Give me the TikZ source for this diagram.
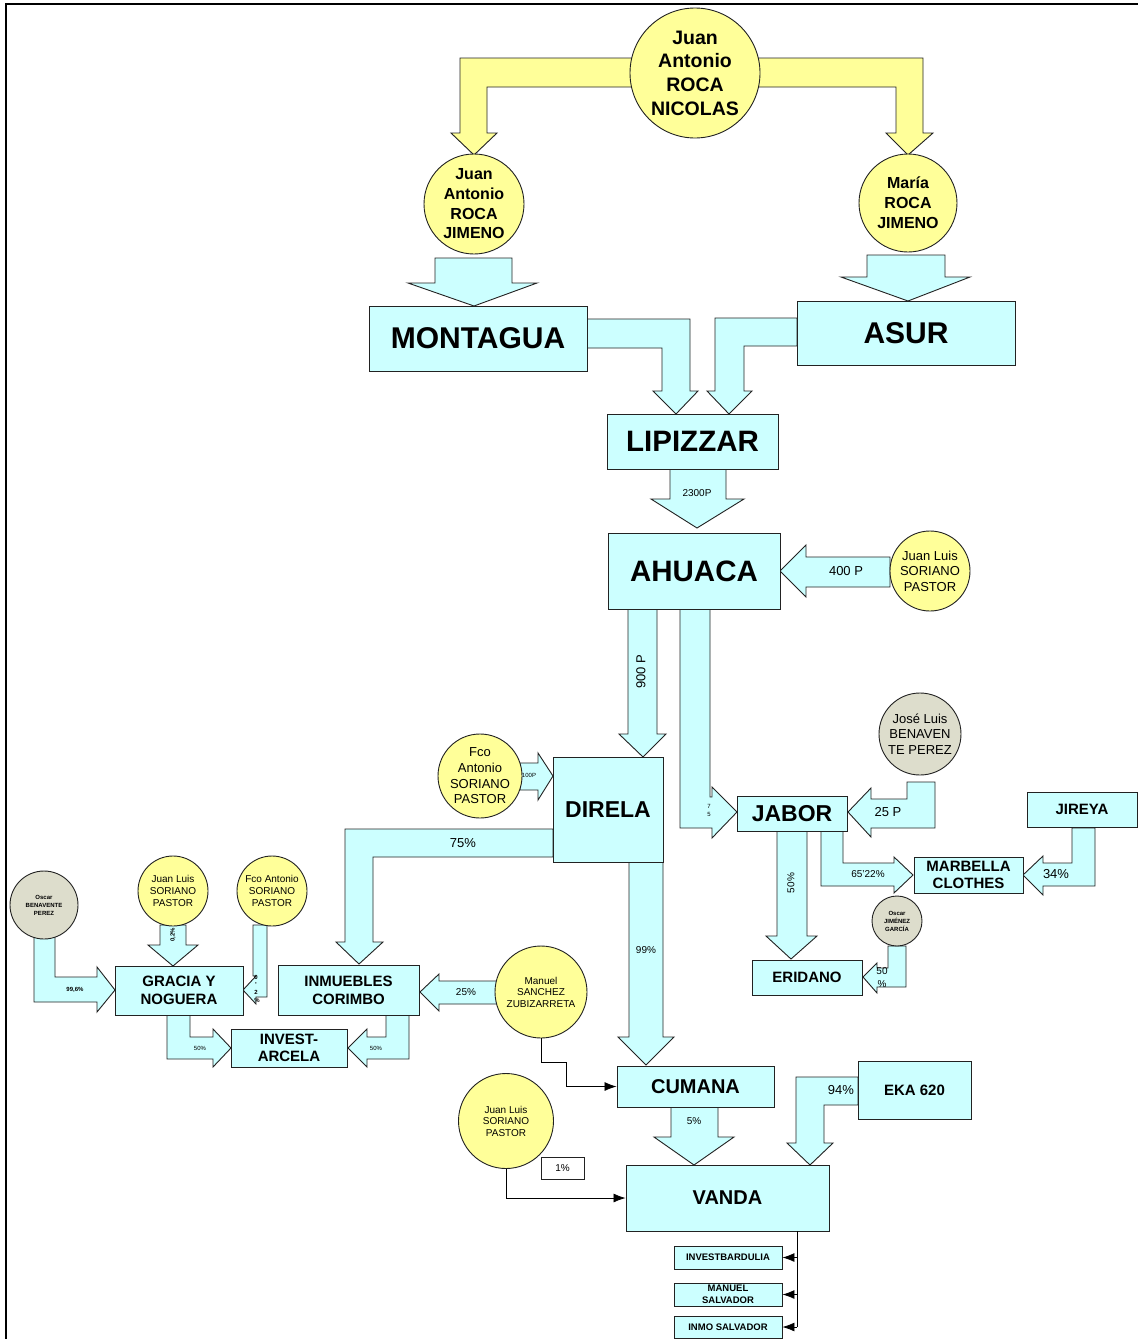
\documentclass[tikz,border=0pt]{standalone}
\usepackage{fontspec}
\setmainfont{Liberation Sans}
\usetikzlibrary{arrows.meta}
\definecolor{cyanc}{HTML}{CCFFFF}
\definecolor{yelc}{HTML}{FFFF99}
\definecolor{greyc}{HTML}{DDDDCC}
\definecolor{linec}{HTML}{222222}
\newcommand\fs[2]{\fontsize{#1}{#2}\selectfont}
\newcommand\bx[7]{\node[box, minimum width={(#4-#2)*1pt}, minimum height={(#5-#3)*1pt}, font=#6] (#1) at ({(#2+#4)/2},{(#3+#5)/2}) {#7};}
\tikzset{
  box/.style={draw=linec, fill=cyanc, line width=0.9pt, inner sep=0pt, align=center},
  ycirc/.style={circle, draw=linec, fill=yelc, line width=0.9pt, inner sep=0pt, align=center},
  gcirc/.style={circle, draw=linec, fill=greyc, line width=0.9pt, inner sep=0pt, align=center},
  farrow/.style={draw=linec, fill=cyanc, line width=0.9pt, line join=miter},
  yarrow/.style={draw=linec, fill=yelc, line width=0.9pt, line join=miter},
  conn/.style={draw=black, line width=0.8pt, -{Latex[length=12pt,width=9pt]}},
  lbl/.style={inner sep=0pt, align=center}
}
\begin{document}
\begin{tikzpicture}[x=1pt,y=-1pt]
\useasboundingbox (0,0) rectangle (1138,1339);
\fill[white] (0,0) rectangle (1138,1339);
% frame
\draw[line width=2.2pt, black] (6.2,1339) -- (6.2,4.3) -- (1138,4.3);

% ---------- yellow arrows ----------
\draw[yarrow] (660,58) -- (460,58) -- (460,133) -- (451,133) -- (474,155) -- (497,133) -- (487,133) -- (487,87) -- (660,87) -- cycle;
\draw[yarrow] (730,58) -- (923,58) -- (923,133) -- (933,133) -- (908,155) -- (886,133) -- (896,133) -- (896,87) -- (730,87) -- cycle;

% ---------- cyan block arrows ----------
\draw[farrow] (435,258) -- (512,258) -- (512,283) -- (537,283) -- (474,306) -- (408,283) -- (435,283) -- cycle;
\draw[farrow] (867,255) -- (945,255) -- (945,277) -- (970,277) -- (908,301) -- (841,277) -- (867,277) -- cycle;
\draw[farrow] (587,319) -- (690,319) -- (690,391) -- (698,391) -- (676,414) -- (653,391) -- (662,391) -- (662,348) -- (587,348) -- cycle;
\draw[farrow] (797,318) -- (715,318) -- (715,391) -- (707,391) -- (729,414) -- (752,391) -- (744,391) -- (744,346) -- (797,346) -- cycle;
\draw[farrow] (670,469) -- (726,469) -- (726,499) -- (744,499) -- (697,528) -- (651,499) -- (670,499) -- cycle;
\draw[farrow] (890,557) -- (806,557) -- (806,545) -- (780,571) -- (806,597) -- (806,587) -- (890,587) -- cycle;
\draw[farrow] (628,609) -- (657,609) -- (657,734) -- (666,734) -- (643,757) -- (619,734) -- (628,734) -- cycle;
\draw[farrow] (680,609) -- (710,609) -- (710,797) -- (712,797) -- (712,787) -- (737,812) -- (712,838) -- (712,828) -- (680,828) -- cycle;
\draw[farrow] (520,763) -- (538,763) -- (538,753) -- (553,776) -- (538,800) -- (538,790) -- (520,790) -- cycle;
\draw[farrow] (553,829) -- (345,829) -- (345,942) -- (336,942) -- (359,964) -- (383,942) -- (373,942) -- (373,857) -- (553,857) -- cycle;
\draw[farrow] (629,862) -- (663,862) -- (663,1037) -- (674,1037) -- (646,1065) -- (618,1037) -- (629,1037) -- cycle;
\draw[farrow] (907,782) -- (935,782) -- (935,828) -- (871,828) -- (871,837) -- (848,812) -- (871,788) -- (871,799) -- (907,799) -- cycle;
\draw[farrow] (1072,828) -- (1095,828) -- (1095,886) -- (1043,886) -- (1043,895) -- (1023,875) -- (1043,856) -- (1043,863) -- (1072,863) -- cycle;
\draw[farrow] (821,831) -- (843,831) -- (843,863) -- (894,863) -- (894,857) -- (913,875) -- (894,893) -- (894,886) -- (821,886) -- cycle;
\draw[farrow] (777,831) -- (807,831) -- (807,936) -- (817,936) -- (791,959) -- (766,936) -- (777,936) -- cycle;
\draw[farrow] (888,946) -- (906,946) -- (906,987) -- (877,987) -- (877,993) -- (863,977) -- (877,963) -- (877,968) -- (888,968) -- cycle;
\draw[farrow] (34,937) -- (55,937) -- (55,977) -- (97,977) -- (97,967) -- (115,990) -- (97,1012) -- (97,1002) -- (34,1002) -- cycle;
\draw[farrow] (160,925) -- (186,925) -- (186,945) -- (198,945) -- (173,966) -- (148,945) -- (160,945) -- cycle;
\draw[farrow] (253,925) -- (267,925) -- (267,997) -- (256,997) -- (256,1004) -- (243,990) -- (256,976) -- (253,976) -- cycle;
\draw[farrow] (497,981) -- (439,981) -- (439,974) -- (420,992) -- (439,1011) -- (439,1004) -- (497,1004) -- cycle;
\draw[farrow] (167,1015) -- (190,1015) -- (190,1037) -- (213,1037) -- (213,1029) -- (231,1048) -- (213,1067) -- (213,1059) -- (167,1059) -- cycle;
\draw[farrow] (386,1015) -- (409,1015) -- (409,1059) -- (367,1059) -- (367,1067) -- (348,1048) -- (367,1029) -- (367,1037) -- (386,1037) -- cycle;
\draw[farrow] (671,1107) -- (718,1107) -- (718,1137) -- (734,1137) -- (694,1165) -- (654,1137) -- (671,1137) -- cycle;
\draw[farrow] (858,1077) -- (796,1077) -- (796,1143) -- (787,1143) -- (810,1165) -- (833,1143) -- (824,1143) -- (824,1105) -- (858,1105) -- cycle;

% ---------- arrow labels ----------
\node[lbl, font=\fs{10}{10}] (l2300) at (697,493) {2300P};
\node[lbl, font=\fs{13}{13}] (l400) at (846,571) {400 P};
\node[lbl, font=\fs{13}{13}, rotate=90] (l900) at (641,672) {900 P};
\node[lbl, font=\fs{6}{6}] (l7) at (709,806) {7};
\node[lbl, font=\fs{6}{6}] (l5) at (709,814) {5};
\node[lbl, font=\fs{6}{6}] (l100) at (529,775) {100P};
\node[lbl, font=\fs{13}{13}] (l75) at (463,843) {75\%};
\node[lbl, font=\fs{10}{10}] (l99) at (646,950) {99\%};
\node[lbl, font=\fs{13}{13}] (l25p) at (888,812) {25 P};
\node[lbl, font=\fs{13}{13}] (l34) at (1056,874) {34\%};
\node[lbl, font=\fs{10}{10}] (l6522) at (868,874) {65'22\%};
\node[lbl, font=\fs{10}{10}, rotate=90] (l50j) at (791,883) {50\%};
\node[lbl, font=\fs{10}{10}] (l50a) at (882,971) {50};
\node[lbl, font=\fs{10}{10}] (l50b) at (882,984) {\%};
\node[lbl, font=\fs{6}{6}\bfseries] (l996) at (75,990) {99,6\%};
\node[lbl, font=\fs{6}{6}\bfseries, rotate=90] (l02) at (173,935) {0,2\%};
\node[lbl, font=\fs{6}{6}\bfseries] (l02a) at (256,977) {0};
\node[lbl, font=\fs{6}{6}\bfseries] (l02b) at (256,984) {,};
\node[lbl, font=\fs{6}{6}\bfseries] (l02c) at (256,992) {2};
\node[lbl, font=\fs{6}{6}\bfseries] (l02d) at (257,1000) {\%};
\node[lbl, font=\fs{10}{10}] (l25) at (466,992) {25\%};
\node[lbl, font=\fs{6}{6}] (l50g) at (200,1048) {50\%};
\node[lbl, font=\fs{6}{6}] (l50i) at (376,1048) {50\%};
\node[lbl, font=\fs{10}{10}] (l5pct) at (694,1121) {5\%};
\node[lbl, font=\fs{13}{13}] (l94) at (841,1090) {94\%};

% ---------- circles ----------
\node[ycirc, minimum size=130pt, font=\fs{19.5}{23.7}\bfseries] (jarn) at (695,73) {Juan\\Antonio\\ROCA\\NICOLAS};
\node[ycirc, minimum size=100pt, font=\fs{16}{19.7}\bfseries] (jarj) at (474,204) {Juan\\Antonio\\ROCA\\JIMENO};
\node[ycirc, minimum size=98pt, font=\fs{16}{20}\bfseries] (mrj) at (908,203) {María\\ROCA\\JIMENO};
\node[ycirc, minimum size=80pt, font=\fs{13}{15.5}] (jlsa) at (930,571) {Juan Luis\\SORIANO\\PASTOR};
\node[ycirc, minimum size=84pt, font=\fs{13}{15.7}] (fasa) at (480,776) {Fco\\Antonio\\SORIANO\\PASTOR};
\node[gcirc, minimum size=82pt, font=\fs{13}{15.5}] (jlb) at (920,734) {José Luis\\BENAVEN\\TE PEREZ};
\node[gcirc, minimum size=50pt, font=\fs{6}{8}\bfseries] (ojg) at (897,921) {Oscar\\JIMÉNEZ\\GARCÍA};
\node[gcirc, minimum size=68pt, font=\fs{6}{8}\bfseries] (obp) at (44,905) {Oscar\\BENAVENTE\\PEREZ};
\node[ycirc, minimum size=70pt, font=\fs{10}{12}] (jlsb) at (173,891) {Juan Luis\\SORIANO\\PASTOR};
\node[ycirc, minimum size=70pt, font=\fs{10}{12}] (fasb) at (272,891) {Fco Antonio\\SORIANO\\PASTOR};
\node[ycirc, minimum size=92pt, font=\fs{10}{11.5}] (msz) at (541,992) {Manuel\\SANCHEZ\\ZUBIZARRETA};
\node[ycirc, minimum size=95pt, font=\fs{10}{11.5}] (jlsc) at (506,1121) {Juan Luis\\SORIANO\\PASTOR};

% ---------- boxes ----------
\bx{mont}{369}{306}{587}{371}{\fs{30}{30}\bfseries}{MONTAGUA}
\bx{asur}{797}{301}{1015}{365}{\fs{30}{30}\bfseries}{ASUR}
\bx{lip}{607}{414}{778}{469}{\fs{29.5}{30}\bfseries}{LIPIZZAR}
\bx{ahu}{608}{533}{780}{609}{\fs{29.5}{30}\bfseries}{AHUACA}
\bx{dir}{553}{757}{663}{862}{\fs{23}{23}\bfseries}{DIRELA}
\bx{jab}{737}{796}{847}{831}{\fs{23}{23}\bfseries}{JABOR}
\bx{jir}{1027}{792}{1137}{827}{\fs{15}{15}\bfseries}{JIREYA}
\bx{marb}{914}{857}{1023}{893}{\fs{15}{17}\bfseries}{MARBELLA\\CLOTHES}
\bx{eri}{752}{960}{862}{995}{\fs{15}{15}\bfseries}{ERIDANO}
\bx{grac}{115}{966}{243}{1015}{\fs{15}{18}\bfseries}{GRACIA Y\\NOGUERA}
\bx{inm}{278}{965}{419}{1015}{\fs{15}{18}\bfseries}{INMUEBLES\\CORIMBO}
\bx{inv}{231}{1029}{347}{1067}{\fs{15}{17}\bfseries}{INVEST-\\ARCELA}
\bx{cum}{617}{1066}{774}{1107}{\fs{20}{20}\bfseries}{CUMANA}
\bx{eka}{858}{1061}{971}{1119}{\fs{15}{15}\bfseries}{EKA 620}
\bx{van}{626}{1165}{829}{1231}{\fs{20}{20}\bfseries}{VANDA}
\bx{ibard}{674}{1246}{782}{1269}{\fs{9.5}{9.5}\bfseries}{INVESTBARDULIA}
\bx{msal}{674}{1283}{782}{1306}{\fs{9.5}{11.5}\bfseries}{MANUEL\\SALVADOR}
\bx{inmo}{674}{1316}{782}{1338}{\fs{9.5}{9.5}\bfseries}{INMO SALVADOR}
\node[draw=linec, fill=white, line width=0.9pt, minimum width=43pt, minimum height=22pt, inner sep=0pt, font=\fs{10}{10}] (pct1) at (562.5,1168) {1\%};

% ---------- thin connectors ----------
\draw[conn] (msz.south) -- ++(0,24) -- ++(25,0) |- (cum.west);
\draw[conn] (jlsc.south) |- (van.west);
\coordinate (vb) at ([xshift=-32pt]van.south east);
\draw[line width=0.8pt] (vb) -- (vb |- inmo.east);
\draw[conn] (vb |- ibard.east) -- (ibard.east);
\draw[conn] (vb |- msal.east) -- (msal.east);
\draw[conn] (vb |- inmo.east) -- (inmo.east);
\end{tikzpicture}
\end{document}
